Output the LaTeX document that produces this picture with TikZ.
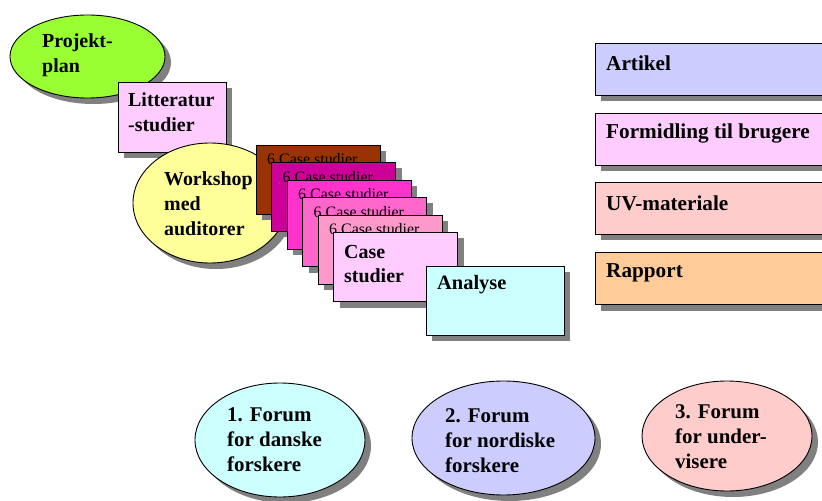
\documentclass[tikz,border=0pt]{standalone}
\usepackage{fontspec}
\setmainfont{Liberation Serif}
\usetikzlibrary{shapes.geometric,shadows}
\definecolor{shadowgray}{HTML}{808080}
\definecolor{cGreen}{HTML}{99FF33}
\definecolor{cPink}{HTML}{FFCCFF}
\definecolor{cYellow}{HTML}{FFFF99}
\definecolor{cCyan}{HTML}{CCFFFF}
\definecolor{cLav}{HTML}{CCCCFF}
\definecolor{cRose}{HTML}{FFCCCC}
\definecolor{cPeach}{HTML}{FFCC99}
\definecolor{cBrown}{HTML}{993300}
\definecolor{cMag}{HTML}{CC0099}
\definecolor{cHot}{HTML}{FF33CC}
\definecolor{cPinkA}{HTML}{FF66CC}
\definecolor{cPinkB}{HTML}{FF99CC}
\tikzset{
  shad/.style={drop shadow={shadow xshift=6bp,shadow yshift=-6bp,fill=shadowgray,opacity=1}},
  ell/.style={ellipse, draw=black, line width=0.9bp, inner sep=0pt, shad},
  boxn/.style={rectangle, draw=black, line width=0.9bp, inner sep=0pt, shad},
  lbl/.style={anchor=west, align=left, inner sep=0pt, font=\bfseries\fontsize{20}{25}\selectfont},
  rlbl/.style={lbl, font=\bfseries\fontsize{21.3}{25}\selectfont},
  flbl/.style={lbl, font=\bfseries\fontsize{21}{25}\selectfont},
  smalllbl/.style={anchor=west, inner sep=0pt, font=\fontsize{16}{18}\selectfont},
  casebox/.style={boxn, minimum width=124bp, minimum height=69bp},
  rbox/.style={boxn, minimum width=245bp, minimum height=52bp}
}
\begin{document}
\begin{tikzpicture}[x=1bp,y=-1bp]
\useasboundingbox (0,0) rectangle (822,501);
\clip (0,0) rectangle (822,501);
% Projektplan
\node[ell, fill=cGreen, minimum width=155bp, minimum height=83bp] (proj) at (87.5,56.5) {};
\node[lbl] (projt) at (42,55) {Projekt-\\plan};
% Litteratur
\node[boxn, fill=cPink, minimum width=108bp, minimum height=70bp] (lit) at (172,117) {};
\node[lbl] (litt) at (128,112.5) {Litteratur\\-studier};
% Workshop
\node[ell, fill=cYellow, minimum width=154bp, minimum height=120bp] (work) at (210,203) {};
\node[lbl] (workt) at (164,204) {Workshop\\med\\auditorer};
% stacked case boxes
\node[casebox, fill=cBrown] (c1) at (318,179.5) {};
\node[smalllbl] (c1t) at (267,159.5) {6 Case studier};
\node[casebox, fill=cMag] (c2) at (333.5,197) {};
\node[smalllbl] (c2t) at (282.5,177) {6 Case studier};
\node[casebox, fill=cHot] (c3) at (349,214.5) {};
\node[smalllbl] (c3t) at (298,194.5) {6 Case studier};
\node[casebox, fill=cPinkA] (c4) at (364.5,232) {};
\node[smalllbl] (c4t) at (313.5,212) {6 Case studier};
\node[casebox, fill=cPinkB] (c5) at (380,249.5) {};
\node[smalllbl] (c5t) at (329,229.5) {6 Case studier};
\node[casebox, fill=cPink] (c6) at (395.5,267) {};
\node[lbl] (c6t) at (344,264) {Case\\studier};
% Analyse
\node[boxn, fill=cCyan, minimum width=138bp, minimum height=69bp] (ana) at (495,300.5) {};
\node[lbl, font=\bfseries\fontsize{20.5}{25}\selectfont] (anat) at (437,285) {Analyse};
% right column
\node[rbox, fill=cLav] (art) at (717.5,69) {};
\node[rlbl] (artt) at (606,63) {Artikel};
\node[rbox, fill=cPink] (form) at (717.5,139) {};
\node[rlbl] (formt) at (606,133) {Formidling til brugere};
\node[rbox, fill=cRose] (uv) at (717.5,208.5) {};
\node[rlbl] (uvt) at (606,203) {UV-materiale};
\node[rbox, fill=cPeach] (rap) at (717.5,278.5) {};
\node[rlbl] (rapt) at (606,273) {Rapport};
% forums
\node[ell, fill=cCyan, minimum width=170bp, minimum height=114bp] (f1) at (280,440) {};
\node[flbl] (f1t) at (227,440) {1. Forum\\for danske\\forskere};
\node[ell, fill=cLav, minimum width=183bp, minimum height=114bp] (f2) at (503.5,438) {};
\node[flbl] (f2t) at (445,440.5) {2. Forum\\for nordiske\\forskere};
\node[ell, fill=cRose, minimum width=170bp, minimum height=110bp] (f3) at (727,436) {};
\node[flbl] (f3t) at (675,437) {3. Forum\\for under-\\visere};
\end{tikzpicture}
\end{document}
